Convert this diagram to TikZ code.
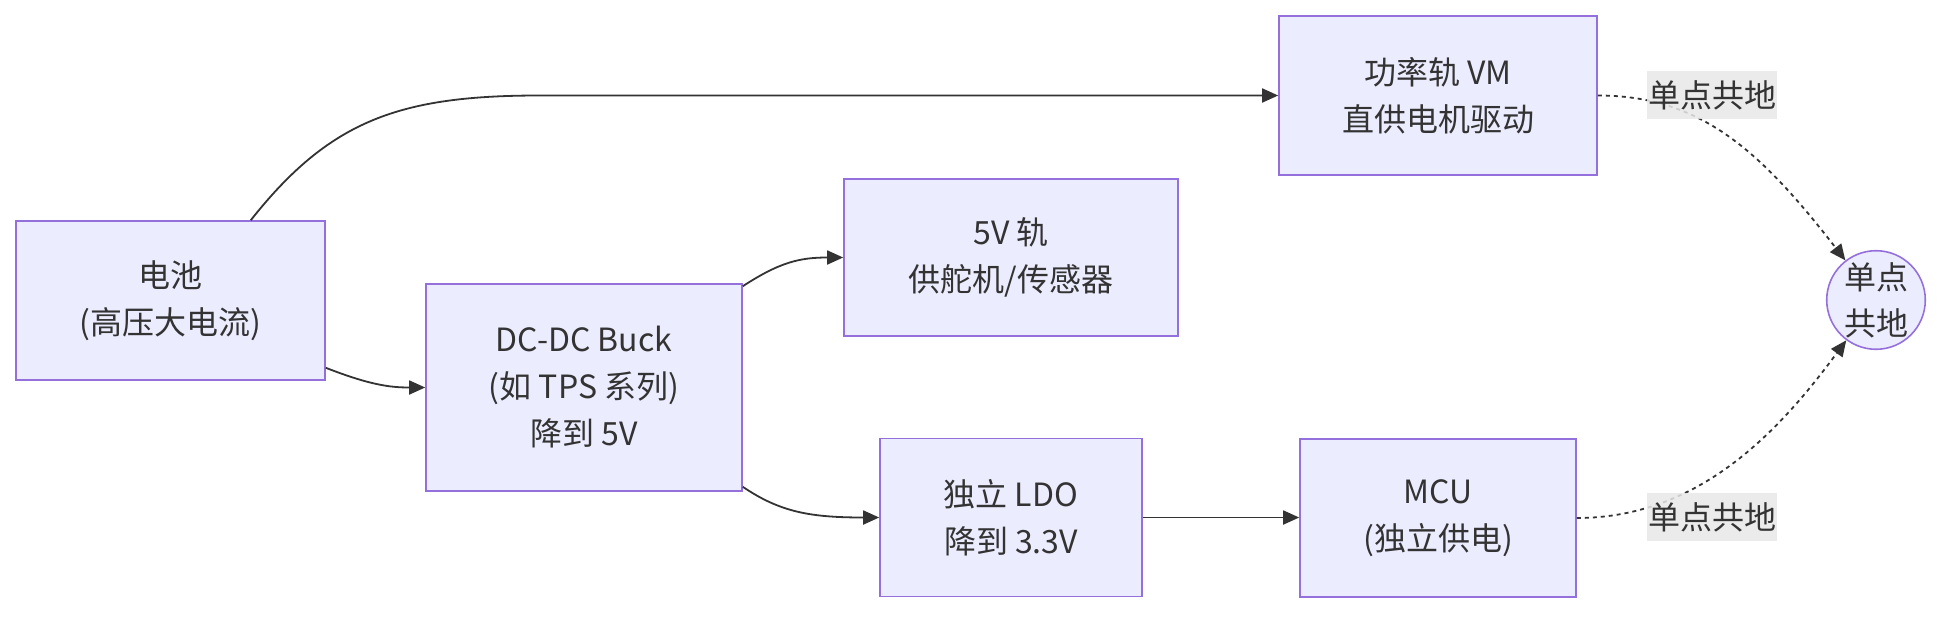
\documentclass[tikz,border=0pt]{standalone}
\usepackage{fontspec}
\setmainfont{Noto Sans CJK SC}
\usetikzlibrary{arrows.meta}
\definecolor{nodefill}{HTML}{ECECFF}
\definecolor{nodeline}{HTML}{9370DB}
\definecolor{ink}{HTML}{333333}
\definecolor{labelbg}{HTML}{E8E8E8}
\tikzset{
  box/.style={draw=nodeline, fill=nodefill, line width=1.6pt, rectangle, align=center,
    text=ink, font=\fontsize{32}{47}\selectfont, inner sep=0pt},
  gndnode/.style={draw=nodeline, fill=nodefill, line width=1.6pt, circle, align=center,
    text=ink, font=\fontsize{32}{46}\selectfont, inner sep=0pt, minimum size=96pt},
  elabel/.style={fill=labelbg, fill opacity=0.85, text opacity=1, text=ink,
    font=\fontsize{32}{40}\selectfont, inner sep=0pt, minimum width=130pt, minimum height=48pt},
  flow/.style={draw=ink, line width=1.8pt, -{Triangle[length=16pt,width=14pt]}},
  gndline/.style={draw=ink, line width=1.8pt, dash pattern=on 4pt off 4pt},
}
\begin{document}
\begin{tikzpicture}[x=1pt,y=-1pt]
\useasboundingbox (0,0) rectangle (1960,623);

\node[box, minimum width=309pt, minimum height=159pt] (bat) at (170.5,300.5) {电池\\(高压大电流)};
\node[box, minimum width=316pt, minimum height=207pt] (buck) at (584,387.5) {DC-DC Buck\\(如 TPS 系列)\\降到 5V};
\node[box, minimum width=318pt, minimum height=159pt] (vm) at (1438,95.5) {功率轨 VM\\直供电机驱动};
\node[box, minimum width=334pt, minimum height=157pt] (v5) at (1011,257.5) {5V 轨\\供舵机/传感器};
\node[box, minimum width=262pt, minimum height=158pt] (ldo) at (1011,517.5) {独立 LDO\\降到 3.3V};
\node[box, minimum width=276pt, minimum height=158pt] (mcu) at (1438,518) {MCU\\(独立供电)};
\node[gndnode] (gnd) at (1876,300) {单点\\共地};

\coordinate (vmbend) at (540,95.5);

\draw[flow] ([xshift=-75pt]bat.north east) .. controls (330,120) and (400,95.5) .. (vmbend) -- (vm.west);
\draw[flow] ([yshift=13pt]bat.south east) .. controls (370,385) and (390,387.5) .. (buck.west);
\draw[flow] ([yshift=-3pt]buck.north east) .. controls (780,262) and (800,257.5) .. (v5.west);
\draw[flow] ([yshift=5pt]buck.south east) .. controls (780,512) and (810,517.5) .. (ldo.west);
\draw[flow] (ldo.east) -- (mcu.west |- ldo.east);

\draw[gndline, -{Triangle[length=16pt,width=14pt]}] (vm.east) .. controls (1700,95.5) and (1760,150) .. (gnd);
\draw[gndline, -{Triangle[length=16pt,width=14pt]}] (mcu.east) .. controls (1700,518) and (1780,430) .. (gnd);

\node[elabel] (l1) at (1712,95.5) {单点共地};
\node[elabel] (l2) at (1712,517) {单点共地};
\end{tikzpicture}
\end{document}
